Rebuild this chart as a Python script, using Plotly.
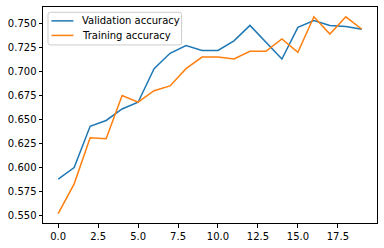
import plotly.graph_objects as go

epochs = list(range(20))
val_acc = [0.588, 0.600, 0.643, 0.649, 0.661, 0.668, 0.703, 0.719, 0.727, 0.722,
           0.722, 0.732, 0.748, 0.731, 0.713, 0.746, 0.753, 0.748, 0.747, 0.744]
train_acc = [0.552, 0.583, 0.631, 0.630, 0.675, 0.668, 0.680, 0.685, 0.703, 0.715,
             0.715, 0.713, 0.721, 0.721, 0.734, 0.720, 0.757, 0.739, 0.757, 0.744]
series_names = ["Validation accuracy", "Training accuracy"]
series_colors = ["#1f77b4", "#ff7f0e"]
x_ticks = [0.0, 2.5, 5.0, 7.5, 10.0, 12.5, 15.0, 17.5]
x_tick_labels = ["0.0", "2.5", "5.0", "7.5", "10.0", "12.5", "15.0", "17.5"]
y_ticks = [0.550, 0.575, 0.600, 0.625, 0.650, 0.675, 0.700, 0.725, 0.750]
y_tick_labels = ["0.550", "0.575", "0.600", "0.625", "0.650", "0.675", "0.700", "0.725", "0.750"]

W, H = 384, 248
ML, MR, MT, MB = 43, 6, 6, 24
PW, PH = W - ML - MR, H - MT - MB


def px(xp):
    return (xp - ML) / PW


def py(yp):
    return 1 - (yp - MT) / PH


fig = go.Figure()
for ys, name, color in zip([val_acc, train_acc], series_names, series_colors):
    fig.add_trace(go.Scatter(x=epochs, y=ys, mode="lines", name=name,
                             line=dict(color=color, width=1.5), showlegend=False))

axis_common = dict(showgrid=False, zeroline=False, showline=True, linecolor="black",
                   linewidth=1, mirror=True, ticks="outside", ticklen=3.5, tickwidth=0.8,
                   tickcolor="black", tickfont=dict(family="DejaVu Sans", size=10, color="black"))

fig.update_xaxes(range=[-0.95, 19.95], tickmode="array", tickvals=x_ticks,
                 ticktext=x_tick_labels, **axis_common)
fig.update_yaxes(range=[0.5422, 0.7672], tickmode="array", tickvals=y_ticks,
                 ticktext=y_tick_labels, **axis_common)

# legend box (matplotlib-style, rounded corners)
x0, x1, y0, y1, r = 48, 182, 11.3, 44.3, 2.5
path = (f"M {px(x0 + r)},{py(y0)} L {px(x1 - r)},{py(y0)} "
        f"Q {px(x1)},{py(y0)} {px(x1)},{py(y0 + r)} "
        f"L {px(x1)},{py(y1 - r)} Q {px(x1)},{py(y1)} {px(x1 - r)},{py(y1)} "
        f"L {px(x0 + r)},{py(y1)} Q {px(x0)},{py(y1)} {px(x0)},{py(y1 - r)} "
        f"L {px(x0)},{py(y0 + r)} Q {px(x0)},{py(y0)} {px(x0 + r)},{py(y0)} Z")
shapes = [dict(type="path", xref="paper", yref="paper", path=path,
               fillcolor="rgba(255,255,255,0.8)", line=dict(color="#cccccc", width=1),
               layer="above")]
annotations = []
entry_y = [20.0, 34.7]
for yy, name, color in zip(entry_y, series_names, series_colors):
    shapes.append(dict(type="line", xref="paper", yref="paper",
                       x0=px(51.5), x1=px(73.5), y0=py(yy), y1=py(yy),
                       line=dict(color=color, width=1.5), layer="above"))
    annotations.append(dict(xref="paper", yref="paper", x=px(80), y=py(yy),
                            xanchor="left", yanchor="middle", text=name, showarrow=False,
                            font=dict(family="DejaVu Sans", size=10, color="black")))

fig.update_layout(
    width=W, height=H,
    margin=dict(l=ML, r=MR, t=MT, b=MB),
    plot_bgcolor="white", paper_bgcolor="white",
    font=dict(family="DejaVu Sans", size=10, color="black"),
    showlegend=False,
    shapes=shapes,
    annotations=annotations,
)

fig.write_html("out.html")
